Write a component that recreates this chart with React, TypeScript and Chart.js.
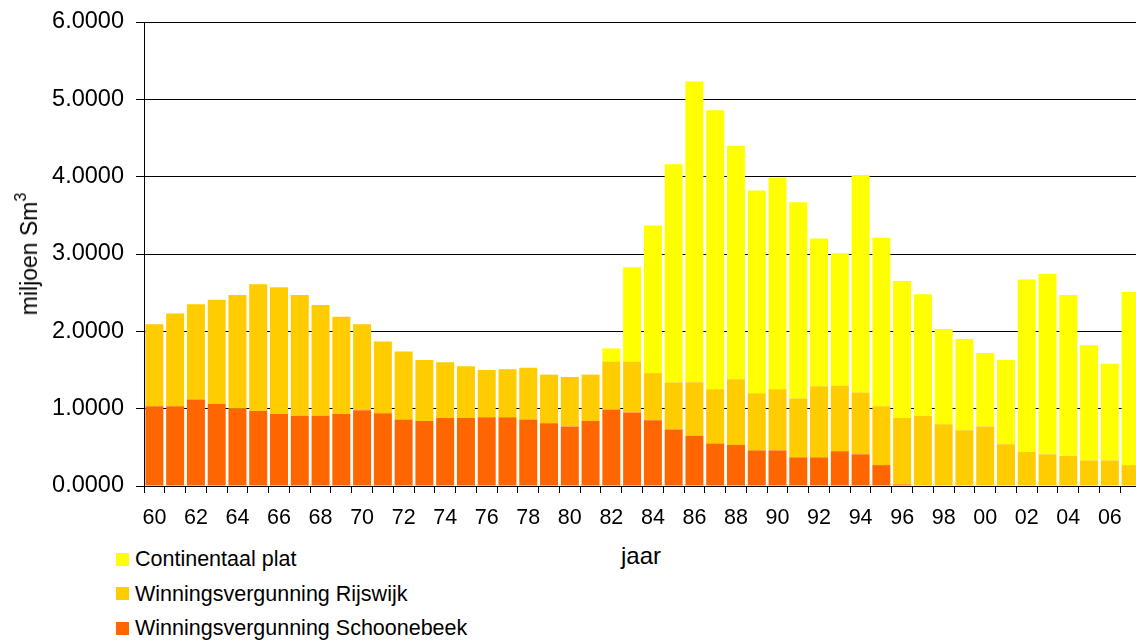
import React, { useEffect, useRef } from "react";
import { Chart, registerables } from "chart.js";

Chart.register(...registerables);

const years: string[] = [
  "60","61","62","63","64","65","66","67","68","69",
  "70","71","72","73","74","75","76","77","78","79",
  "80","81","82","83","84","85","86","87","88","89",
  "90","91","92","93","94","95","96","97","98","99",
  "00","01","02","03","04","05","06","07",
];

const schoonebeek: number[] = [
  1.03, 1.03, 1.12, 1.06, 1.00, 0.97, 0.93, 0.91, 0.91, 0.93,
  0.98, 0.94, 0.86, 0.84, 0.88, 0.88, 0.89, 0.89, 0.86, 0.81,
  0.77, 0.84, 0.99, 0.95, 0.85, 0.73, 0.65, 0.55, 0.53, 0.46,
  0.46, 0.37, 0.37, 0.45, 0.41, 0.27, 0.02, 0, 0, 0,
  0, 0, 0, 0, 0, 0, 0, 0,
];

const rijswijk: number[] = [
  1.06, 1.20, 1.23, 1.35, 1.47, 1.64, 1.64, 1.56, 1.43, 1.26,
  1.11, 0.93, 0.88, 0.79, 0.72, 0.67, 0.61, 0.62, 0.67, 0.63,
  0.64, 0.60, 0.62, 0.66, 0.61, 0.61, 0.69, 0.70, 0.85, 0.74,
  0.79, 0.76, 0.92, 0.85, 0.80, 0.76, 0.86, 0.91, 0.80, 0.72,
  0.77, 0.54, 0.44, 0.41, 0.39, 0.33, 0.33, 0.27,
];

const continentaal: number[] = [
  0, 0, 0, 0, 0, 0, 0, 0, 0, 0,
  0, 0, 0, 0, 0, 0, 0, 0, 0, 0,
  0, 0, 0.17, 1.22, 1.91, 2.82, 3.89, 3.61, 3.02, 2.62,
  2.74, 2.54, 1.91, 1.71, 2.81, 2.18, 1.77, 1.57, 1.23, 1.18,
  0.95, 1.09, 2.23, 2.33, 2.08, 1.49, 1.25, 2.24,
];

const seriesNames: string[] = [
  "Continentaal plat",
  "Winningsvergunning Rijswijk",
  "Winningsvergunning Schoonebeek",
];
const seriesColors: string[] = ["#FFFF00", "#FFCC00", "#FF6600"];

const FONT = "'Liberation Sans', Arial, sans-serif";

export default function App() {
  const ref = useRef<HTMLCanvasElement | null>(null);

  useEffect(() => {
    const canvas = ref.current;
    if (!canvas) return;
    const chart = new Chart(canvas, {
      type: "bar",
      data: {
        labels: years,
        datasets: [
          { label: seriesNames[2], data: schoonebeek, backgroundColor: seriesColors[2], borderWidth: 0 },
          { label: seriesNames[1], data: rijswijk, backgroundColor: seriesColors[1], borderWidth: 0 },
          { label: seriesNames[0], data: continentaal, backgroundColor: seriesColors[0], borderWidth: 0 },
        ],
      },
      options: {
        responsive: false,
        animation: false,
        devicePixelRatio: 1,
        layout: { padding: { top: 22, right: 1, bottom: 0, left: 0 } },
        datasets: { bar: { barPercentage: 0.866, categoryPercentage: 1 } },
        plugins: { legend: { display: false }, tooltip: { enabled: false } },
        scales: {
          x: {
            stacked: true,
            offset: true,
            border: { color: "#000", width: 1 },
            grid: { offset: true, drawOnChartArea: false, drawTicks: true, tickLength: 7, color: "#000" },
            ticks: {
              autoSkip: false,
              maxRotation: 0,
              padding: 12,
              color: "#000",
              font: { family: FONT, size: 21.5 },
              callback: (_v: any, i: number) => (i % 2 === 0 ? years[i] : ""),
            },
            afterFit: (s: any) => {
              s.height = 50;
              s.paddingLeft = 0;
              s.paddingRight = 0;
            },
          },
          y: {
            stacked: true,
            min: 0,
            max: 6,
            border: { color: "#000", width: 1 },
            grid: { color: "#000", lineWidth: 1, drawTicks: true, tickLength: 8 },
            ticks: {
              stepSize: 1,
              padding: 12,
              color: "#000",
              font: { family: FONT, size: 23.5 },
              callback: (v: any) => Number(v).toFixed(4),
            },
            afterFit: (s: any) => {
              s.width = 144;
              s.paddingTop = 0;
              s.paddingBottom = 0;
            },
          },
        },
      },
    });
    return () => chart.destroy();
  }, []);

  const legendRows = [0, 1, 2];
  return (
    <div style={{ position: "absolute", left: 0, top: 0, width: 1136, height: 641, overflow: "hidden", background: "#fff", fontFamily: FONT }}>
      <canvas ref={ref} width={1142} height={536} style={{ position: "absolute", left: 0, top: 0, width: 1142, height: 536 }} />
      <div
        style={{
          position: "absolute",
          left: 29,
          top: 254,
          transform: "translate(-50%, -50%) rotate(-90deg)",
          whiteSpace: "nowrap",
          fontSize: 23,
          lineHeight: "28px",
          color: "#000",
        }}
      >
        miljoen Sm<sup style={{ fontSize: 16, verticalAlign: "top", position: "relative", top: -8 }}>3</sup>
      </div>
      <div style={{ position: "absolute", left: 591, top: 542, width: 100, textAlign: "center", fontSize: 24, lineHeight: "28px", color: "#000" }}>jaar</div>
      {legendRows.map((i) => (
        <div key={i} style={{ position: "absolute", left: 116, top: 546 + i * 34.5, height: 26, display: "flex", alignItems: "center", whiteSpace: "nowrap" }}>
          <div style={{ width: 13, height: 13, background: seriesColors[i], marginRight: 6 }} />
          <span style={{ fontSize: 21.5, lineHeight: "26px", color: "#000" }}>{seriesNames[i]}</span>
        </div>
      ))}
    </div>
  );
}
